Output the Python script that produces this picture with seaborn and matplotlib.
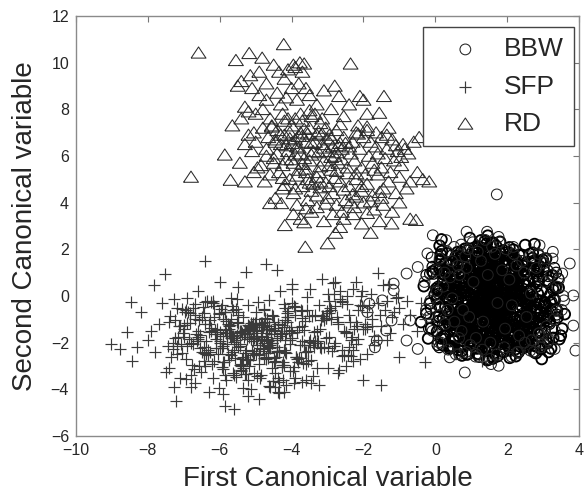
import numpy as np
import pandas as pd
import seaborn as sns
import matplotlib.pyplot as plt

# ---------------- BBW (circles) ----------------
# dense core, values in hundredths
bbw_core_x100 = [
    148, 62, 221, 105, 187, 12, 163, 239, 88, 131, 275, 46, 199, 154, 117, 302, 73, 176, 140, 226,
    95, 258, 124, 181, -8, 166, 109, 213, 151, 33, 244, 137, 82, 195, 170, 290, 57, 128, 208, 159,
    101, 231, 144, 19, 186, 116, 266, 69, 173, 135, 328, 92, 205, 158, 41, 248, 122, 190, 81, 146,
    283, 107, 167, -25, 217, 132, 60, 254, 178, 113, 197, 29, 156, 236, 87, 141, 311, 64, 183, 126,
    218, 98, 161, 3, 272, 139, 76, 194, 150, 240, 52, 119, 206, 171, 337, 85, 133, 225, 20, 165,
    111, 262, 147, 70, 189, 296, 102, 153, -40, 229, 127, 179, 44, 251, 143, 94, 210, 162, 353, 120,
    175, 36, 242, 130, 80, 202, 155, 280, 66, 185, 114, 233, 10, 168, 138, 318, 90, 196, 149, 54,
    255, 123, 177, 99, 214, 345, 27, 160, 108, 247, 142, 74, 191, 134, 289, 48, 172, 118, 227, 157,
    84, 211, 145, 268, 38, 181, 125, 198, 61, 303, 152, 104, 237, 169, -15, 223, 136, 78, 192, 260,
    115, 164, 16, 246, 129, 56, 207, 174, 332, 96, 184, 140, 71, 219, 153, 285, 43, 166, 112, 201,
    261, 121, 186, 50, 232, 148, 93, 315, 169, 7, 209, 134, 256, 79, 178, 117, 241, 31, 193, 157,
    103, 277, 146, 65, 220, 181, 349, 88, 138, 204, -32, 163, 251, 110, 187, 58, 230, 144, 295, 97,
    135, 24, 196, 162, 270, 77, 215, 128, 49, 245, 176, 106, 308, 152, 89, 226, 13, 188, 141, 264,
    67, 170, 119, 238, 35, 199, 156, 323, 100, 182, 131, 59, 250, 167, 83, 212, 148, 286, 40, 179,
    113, 234, 158, 72, 200, 139, 299, 53, 185, 124, 224, 9, 171, 150, 265, 86, 195, 116, 340, 63,
    208, 137, 243, 30, 177, 161, 92, 229, 144, 282, 47, 190, 106, 253, 172, 75, 216, 132, -20, 202,
    159, 81, 227, 120, 293, 42, 184, 147, 249, 68, 205, 133, 17, 174, 110, 314, 91, 240, 154, 55,
    197, 127, 271, 22, 183, 143, 231, 78, 360, 165, 102, 218, 136, 61, 257, 173, 97, 206, 149, 281,
    192, 108, 245, 34, 180, 151, 305, 74, 213, 129, -2, 168, 236, 95, 198, 142, 276, 51, 187, 115,
    222, 160, 335, 83, 176, 125, 252, 15, 203, 146, 70, 232, 170, 105, 294, 45, 189, 135, 248, 87,
    142, 263, 99, 182, 28, 221, 155, 71, 238, 127, 319, 60, 194, 163, 112, 256, 39, 178, 140, 210,
    84, 288, 131, 5, 223, 167, 93, 247, 150, 326, 67, 186, 121, 235, 51, 199, 158, 273, 107, 175,
    228, 58, 173, 136, 279, 90, 204, 145, 18, 241, 164, 118, 301, 76, 192, 153, 260, 37, 181, 128,
    217, 101, 343, 64, 170, 139, 236, 12, 195, 157, 86, 266, 148, 114, 212, 46, 183, 126, 291, 96,
    166, 242, 103, 190, 54, 228, 137, 312, 79, 179, 146, -12, 215, 122, 259, 89, 185, 157, 32, 232,
    111, 200, 168, 284, 62, 176, 130, 247, 23, 209, 151, 98, 330, 141, 188, 73, 225, 161, 119, 269,
    105, 185, 257, 43, 196, 134, 293, 82, 219, 158, 112, 244, 26, 173, 145, 308, 69, 207, 124, 264,
    97, 180, 152, 39, 235, 166, 87, 278, 139, 201, 56, 247, 171, 118, 322, 76, 193, 147, 214, 6,
]
bbw_core_y100 = [
    -18, -110, 62, -205, -45, 118, -80, 20, -150, -5, -240, 85, -60, -130, 40, -95, 150, -175, -30, 5,
    -120, 70, -215, -50, 105, -85, 30, -160, -10, 182, -135, -65, 50, -190, -25, 128, -100, -40, 12, -230,
    48, -140, -15, 95, -70, -225, 25, -105, 160, -55, -180, 78, -35, 135, -125, 0, -260, 58, -90, -20,
    115, -165, 38, -75, 198, -115, -45, -200, 88, -8, -145, 142, -60, 18, -250, 65, -95, 172, -30, -185,
    102, -68, -155, 32, -5, -235, 80, -120, 155, -42, -92, 205, -175, 15, -62, -130, 120, 45, -210, -22,
    92, -150, -85, 168, 8, -270, -38, 60, -112, 138, -188, -52, 28, -98, 225, -160, 72, -12, -140, 110,
    -75, 35, -195, 145, -58, -28, 98, -245, 55, -135, -2, 175, -88, -170, 42, -110, 130, -48, -220, 68,
    -15, -128, 190, -72, 22, -185, 108, -40, -158, 3, 82, -255, -64, 158, -105, -35, 52, -200, 122, -82,
    15, -165, 112, -48, -118, 72, -208, -12, 142, -92, 38, -152, -62, 215, -32, -228, 95, -78, 2, -138,
    165, -55, -182, 60, -102, 28, -265, 132, -18, -145, 75, -70, 188, -122, -42, 10, -215, 100, -88, 45,
    -130, 58, -25, -190, 125, -60, 5, -240, 85, -108, 172, -38, -152, 35, -82, 212, -198, -8, 68, -125,
    -52, 148, -230, 18, -95, 98, -170, -28, 235, -115, 42, -68, -205, 115, -44, -142, 78, -275, 25, -98,
    88, -172, 12, -58, 162, -128, -35, 65, -218, 128, -75, -5, -185, 45, 195, -108, -48, 82, -162, 22,
    -90, 140, -248, -20, 58, -132, 178, -62, -192, 92, -10, -118, 218, -42, -158, 35, -72, 105, -225, 0,
    -48, 118, -100, -212, 52, -30, 155, -148, -68, 75, -258, 28, -112, 192, -55, -178, 8, 138, -92, -38,
    62, -198, 110, -15, -142, 228, -80, 42, -165, -50, 95, -240, 20, -105, 168, -28, -125, 55, -182, 132,
    -5, -155, 78, -85, 148, -220, -40, 35, -125, 98, -190, -18, 242, -70, -138, 65, -22, -205, 112, -58,
    15, -168, 185, -95, -35, 48, -242, 125, -78, -148, 30, 162, -112, -8, -195, 88, -60, 208, -132, 40,
    130, -62, -180, 25, -102, 182, -30, -235, 70, -145, 5, 150, -88, -195, 55, -120, 222, -45, -12, -168,
    92, -268, 38, -72, 135, -110, -25, 178, -215, 60, -58, -140, 115, -35, -228, 18, 195, -92, -5, -178,
    40, -118, 95, -205, -48, 158, -82, 12, -162, 238, -28, -125, 72, -245, 125, -68, -15, 170, -188, 48,
    -102, -35, 205, -152, 30, -75, 108, -222, -2, 88, -135, 145, -55, -198, 62, -20, 228, -112, 15, -160,
    -92, 22, -138, 112, -62, -250, 78, -18, 192, -108, 48, -178, -42, 138, -85, 0, -212, 100, -32, -148,
    165, -70, 35, -232, 82, -120, 10, 215, -55, -162, 58, -95, -272, 128, -38, 2, -188, 92, -122, 248,
    -25, 175, -145, 55, -98, -15, 120, -202, 32, -78, 258, -138, 70, -48, -182, 18, -112, 152, -65, -238,
    95, -28, 42, -158, 188, -88, -5, -218, 75, -130, 140, -52, -12, -192, 108, -80, 25, -262, 62, -115,
    68, -195, -35, 135, -115, 28, -70, 202, -168, 52, -22, -128, 90, -258, 15, 160, -95, -48, -152, 118,
    -62, 232, -182, 38, -105, 75, -40, -215, 155, 8, -138, 48, -78, 185, -225, 22, -58, 98, -148, -10,
]
# second read of the filled block, hundredths
bbw_fill_x100 = [
    35, 298, 120, 211, -12, 176, 265, 84, 312, 149, 57, 238, 103, 190, 323, 14, 162, 279, 128, 229,
    70, 305, 187, -5, 250, 138, 45, 221, 96, 286, 171, 25, 331, 117, 204, 60, 262, 153, 9, 240,
    182, 88, 317, 131, 49, 272, 197, 107, -18, 226, 145, 293, 64, 183, 253, 28, 124, 308, 168, 79,
    257, 2, 214, 142, 327, 93, 179, 40, 236, 122, 283, 67, 196, 156, 19, 301, 112, 245, 174, 53,
    136, 269, 81, 203, 31, 319, 160, 99, 246, 185, -8, 224, 127, 290, 74, 207, 42, 267, 150, 336,
    17, 193, 289, 110, 232, 58, 166, 275, 139, 6, 219, 86, 314, 177, 47, 255, 119, 199, 296, 68,
    228, 151, 39, 281, 126, 206, 12, 243, 92, 325, 170, 56, 260, 134, 212, 77, 304, 23, 188, 114,
    61, 247, 165, 316, 100, -25, 209, 143, 277, 33, 192, 118, 258, 72, 231, 155, 338, 89, 176, 11,
    273, 130, 52, 199, 311, 108, 235, 1, 163, 287, 76, 217, 146, 29, 263, 180, 94, 321, 124, 241,
    44, 182, 300, 87, 223, 158, 15, 270, 115, 202, 63, 333, 141, 250, 36, 186, 97, 295, 169, -10,
    215, 105, 285, 48, 173, 251, 129, 21, 309, 195, 82, 237, 153, 6, 276, 117, 201, 66, 342, 160,
    99, 256, 27, 190, 135, 318, 71, 226, 167, 3, 294, 111, 245, 54, 182, 138, 269, 38, 213, 147,
    306, 59, 178, 241, 16, 132, 282, 90, 205, 157, 328, 43, 218, 121, 259, 79, -15, 194, 140, 266,
    125, 220, 8, 297, 162, 74, 233, 109, 339, 184, 51, 264, 137, 20, 210, 291, 95, 171, 248, 34,
    187, 83, 271, 145, 315, 26, 199, 113, 254, 65, 166, 302, 41, 227, 131, 280, 10, 208, 101, 175,
]
bbw_fill_y100 = [
    -120, 85, -200, 20, -55, 160, -165, -10, 110, -230, 45, -85, 190, -140, -25, 135, -190, 60, -100, 0,
    170, -150, -40, 95, -215, 30, -75, 145, -180, 70, -5, -125, 120, -60, -205, 40, 180, -95, 10, -160,
    -30, 125, -110, 55, -185, 150, -50, 100, -140, 15, 195, -70, -220, 80, -15, -170, 130, -45, 65, -195,
    105, -90, 175, -130, 35, -60, 185, -225, 75, -20, -150, 155, -80, 25, -175, 115, -35, -200, 90, -115,
    -65, 140, -210, 50, -100, 5, 165, -155, 90, -40, 125, -190, -15, 70, -135, 185, -70, 30, -225, 100,
    155, -120, -20, 190, -170, 65, -90, 120, -45, -210, 40, -145, 85, -5, 175, -80, -190, 135, 20, -60,
    -180, 60, 130, -95, 10, -230, 150, -50, 95, -140, -10, 170, -115, 45, -200, 110, -25, 75, -160, 185,
    35, -175, 110, -70, -135, 90, -5, 160, -210, 55, -105, 195, -40, 130, -185, 15, -80, 145, -125, -220,
    80, -30, -195, 140, -85, 20, -160, 115, -55, 175, -215, 50, -100, 100, -10, -145, 160, -65, 0, -180,
    -110, 180, -45, -165, 70, -225, 125, 5, -90, 155, -130, 35, -20, -190, 110, -70, 85, -150, 45, 165,
    10, -200, 95, -125, 150, -35, -175, 65, -105, 185, -60, 120, -215, 25, -140, 170, -5, -85, 75, -155,
    145, -55, -185, 30, 195, -120, 60, -205, 100, -15, -160, 170, -75, 40, -230, 135, -95, 5, -170, 115,
    -40, 110, -145, -10, 160, -195, 85, -65, 180, -110, 25, -220, 140, -30, 55, -180, 95, -130, 190, -75,
    120, -100, 40, -215, -5, 165, -150, 75, -60, -185, 150, -20, 105, -125, 60, -205, 175, -45, -165, 15,
    -15, 200, -135, 80, -90, 30, -210, 130, -70, -170, 50, 105, -195, 155, -50, -115, 20, -235, 90, 140,
]
# ring around the core, hundredths
bbw_ring_x100 = [
    -30, -18, -8, 3, 7, 12, 16, 22, 27, 33, 36, 41, 47, 52, 57, 63, 66, 72, 77, 83,
    86, 91, 97, 104, 112, 118, 131, 139, 152, 158, 171, 179, 192, 198, 212, 218, 231, 242, 249, 262,
    268, 281, 288, 302, 309, 322, 331, 338, 352, 356, 344, 333, 326, 314, 306, 293, 287, 274, 266, 254,
    247, 233, 226, 213, 206, 194, 186, 173, 166, 153, 146, 133, 127, 113, 106, 94, 87, 73, 67, 53,
    46, 34, 26, 13, 4, -6, -14, -26,
]
bbw_ring_y100 = [
    60, -90, -150, 110, -40, 160, -200, 40, -120, 190, -230, 80, -10, 210, -250, 130, -180, 220, -60, 170,
    -240, 200, -210, 230, -260, 190, -230, 240, -270, 210, -250, 230, -220, 200, -260, 180, -240, 150, -200, 170,
    -190, 120, -160, 140, -130, 90, -100, 40, -60, 0, 70, -150, 160, -190, 60, -220, 180, -240, 10, -90,
    100, -170, 130, -40, 70, -140, 110, -30, 180, -200, 90, -110, 150, -180, 60, -90, 120, -150, 90, -110,
    150, -60, 100, -80, 20, 60, -20, -60,
]
# scattered outer circles
bbw_edge_x = [-0.07, 0.87, 1.44, 2.9, 3.06, 3.74, 3.53, 3.84, 3.84, 3.9, 3.32, 2.96, 2.28, 1.76, 1.55,
              0.82, 0.66, 1.13, -0.49, -0.8, -0.7, -0.8, -0.49, -1.16, -1.16, -1.48, -1.84, -1.89,
              -1.68, -1.63, -1.37, -1.22, -0.22, 0.3, 1.76, 2.17, 3.27, 3.58, 3.37, 3.01, 2.64, 0.4,
              0.09, 1.71]
bbw_edge_y = [2.6, 2.75, 2.75, 2.17, 1.6, 1.39, 0.96, 0.02, -1.27, -2.34, -2.27, -1.77, -2.41, -2.99,
              -2.92, -3.28, -2.49, -2.49, -2.27, -1.91, -1.05, 0.96, 1.24, 0.53, 0.24, -0.19, -0.33,
              -0.69, -2.2, -1.91, -1.48, -1.05, 1.82, 2.39, 2.53, 2.1, 1.89, -0.19, -0.62, -2.06,
              -2.34, -2.63, -1.98, 4.35]

# ---------------- SFP (plus) ----------------
sfp_core_x100 = [
    -512, -438, -605, -470, -545, -390, -658, -495, -420, -570, -335, -528, -462, -700, -485, -552, -405, -630, -478, -360,
    -590, -448, -520, -680, -412, -535, -498, -310, -615, -455, -560, -380, -505, -725, -440, -582, -468, -348, -645, -515,
    -428, -598, -482, -372, -540, -660, -452, -508, -295, -575, -435, -620, -490, -398, -555, -742, -465, -530, -325, -610,
    -475, -418, -565, -502, -690, -445, -385, -548, -638, -458, -522, -355, -592, -488, -430, -670, -518, -400, -578, -472,
    -340, -625, -495, -450, -560, -715, -410, -538, -480, -365, -602, -525, -442, -650, -508, -392, -585, -462, -318, -568,
    -500, -675, -425, -545, -478, -370, -618, -532, -455, -705, -415, -590, -485, -345, -555, -640, -440, -515, -395, -572,
    -468, -735, -505, -428, -595, -452, -330, -562, -498, -662, -420, -540, -475, -378, -608, -520, -445, -685, -492, -362,
    -580, -458, -528, -305, -632, -482, -412, -558, -510, -720, -438, -575, -465, -352, -598, -535, -448, -655, -502, -388,
    -570, -478, -422, -612, -545, -462, -695, -405, -585, -490, -338, -550, -628, -472, -518, -398, -565, -448, -750, -525,
    -485, -375, -600, -512, -435, -668, -495, -418, -578, -455, -322, -542, -640, -468, -505, -392, -590, -482, -710, -530,
    -460, -408, -560, -498, -645, -442, -372, -575, -515, -300,
    -612, -388, -705, -455, -298, -536, -661, -247, -478, -572, -340, -689, -419, -523, -265, -598, -730, -362, -447, -551,
    -203, -634, -401, -497, -315, -676, -583, -433, -228, -548, -652, -375, -469, -718, -289, -521, -607, -356, -441, -176,
    -589, -684, -327, -505, -412, -627, -259, -562, -476, -738, -393, -541, -281, -646, -428, -519, -352, -697, -236, -575,
    -462, -610, -309, -487, -665, -384, -555, -214, -621, -439, -512, -336, -708, -401, -594, -268, -484, -643, -372, -530,
    -190, -568, -450, -683, -322, -601, -416, -538, -255, -657, -494, -367, -724, -445, -586, -302, -509, -631, -398, -222,
    -545, -672, -343, -465, -616, -280, -527, -699, -424, -579, -358, -492, -238, -640, -458, -553, -319, -668, -436, -160,
    -603, -381, -517, -744, -293, -563, -471, -650, -409, -535, -250, -619, -443, -691, -330, -500, -590, -366, -481, -207,
    -655, -426, -548, -287, -713, -453, -597, -348, -522, -272, -636, -415, -570, -681, -305, -489, -624, -390, -543, -232,
    -582, -463, -693, -338, -507, -645, -421, -559, -261, -615, -404, -531, -727, -354, -476, -593, -296, -660, -437, -196,
    -566, -379, -508, -674, -312, -556, -432, -625, -244, -498, -360, -586, -459, -702, -283, -541, -418, -639, -345, -218,
]
sfp_core_y100 = [
    -185, -120, -250, -160, -215, -80, -300, -145, -230, -100, -195, -270, -130, -175, -340, -110, -205, -155, -60, -240,
    -170, -285, -125, -200, -90, -260, -150, -220, -45, -310, -180, -135, -245, -105, -190, -360, -140, -210, -75, -275,
    -165, -225, -115, -195, -320, -150, -85, -255, -175, -130, -235, -20, -290, -160, -205, -110, -265, -145, -380, -185,
    -95, -240, -170, -125, -215, -330, -155, -70, -250, -190, -140, -280, -100, -225, -160, -35, -300, -180, -120, -260,
    -200, -150, -345, -110, -230, -175, -65, -270, -135, -210, -395, -165, -240, -90, -195, -305, -145, -220, -105, -255,
    -185, -50, -285, -155, -200, -130, -350, -175, -80, -245, -160, -215, -115, -275, -190, -25, -235, -140, -320, -170,
    -100, -260, -180, -125, -225, -365, -150, -60, -250, -195, -135, -290, -110, -210, -165, -40, -280, -185, -120, -240,
    -205, -145, -335, -95, -230, -170, -75, -265, -130, -215, -410, -160, -245, -85, -200, -310, -150, -225, -115, -260,
    -180, -55, -295, -165, -205, -140, -355, -190, -70, -255, -155, -220, -105, -270, -175, -30, -240, -145, -325, -185,
    -125, -265, -195, -115, -235, -375, -160, -50, -250, -200, -140, -300, -120, -215, -170, -45, -285, -190, -130, -245,
    -210, -150, -340, -100, -220, -180, -65, -275, -135, -225,
    -148, -262, -55, -201, -310, -92, -177, -35, -238, -124, -345, -70, -190, -275, -12, -155, -228, -108, -388, -168,
    -42, -252, -135, -212, -84, -298, -160, 22, -232, -118, -325, -62, -185, -248, -98, -362, -142, -5, -218, -130,
    -285, -75, -195, -330, -112, -240, -25, -172, -265, -88, -375, -152, -215, -48, -305, -128, -198, -68, -258, -140,
    -18, -225, -102, -352, -165, -272, -58, -186, -292, -122, -398, -80, -208, -145, -38, -318, -175, -245, -95, -335,
    -132, -8, -268, -115, -220, -72, -380, -158, -255, -105, -28, -288, -182, -138, -340, -65, -235, -120, 30, -205,
    -150, -315, -85, -192, -278, -45, -230, -125, -358, -170, -60, -248, -110, -302, -162, -15, -222, -98, -370, -188,
    -78, -282, -138, -215, -52, -328, -178, -242, -90, -395, -155, -32, -262, -118, -200, -70, -312, -145, -228, -2,
    -168, -298, -82, -235, -128, -365, -58, -190, -270, -112, -22, -245, -160, -338, -95, -212, -138, -48, -295, -175,
    -108, -385, -62, -218, -148, -280, -35, -198, -258, -92, -322, -165, -12, -238, -125, -305, -75, -185, -350, -142,
    -45, -268, -118, -205, -88, -348, -172, -28, -252, -135, -292, -68, -222, -158, 10, -318, -102, -195, -375, -130,
]
sfp_right_x = [-2.9, -2.7, -2.6, -2.5, -2.4, -2.3, -2.2, -2.1, -2.0, -1.9, -1.8, -1.75, -1.6, -1.5, -1.4,
               -1.3, -1.2, -1.1, -1.0, -0.9, -0.8, -0.7, -0.5, -0.4, -0.3, -2.8, -2.6, -2.3, -2.0, -1.5,
               -1.0, -0.3, 1.3, -1.6, -3.15, -2.85, -1.45, -1.05, -2.2, -3.6, -3.7, -4.35, -4.92, -5.6,
               -5.86, -7.21, -7.26, -4.2, -3.9, -3.3, -2.7,
               -2.95, -2.75, -2.55, -2.45, -2.35, -2.15, -2.05, -1.95, -1.85, -1.7, -1.55, -1.35, -1.25,
               -1.15, -2.65, -2.4, -2.25, -1.9, -3.05, -3.25, -2.5, -1.7, -2.1, -2.8, -1.35]
sfp_right_y = [-0.6, -1.2, -0.2, -1.6, -0.8, 0.3, -1.1, -0.4, -1.4, -0.7, 0.1, -1.0, -0.3, -1.3, -0.6,
               0.5, -0.9, -0.1, -0.5, -1.2, -0.2, -0.8, -1.5, -0.3, -1.0, 0.6, -2.3, -2.8, -3.6, -3.8,
               -2.6, -2.85, -2.8, 1.0, 0.74, 0.55, 0.45, -0.05, 0.6, -3.6, -3.7, -4.15, -4.42, -4.85,
               -4.7, -4.5, -3.92, -4.1, -3.5, -3.1, -3.3,
               -0.2, -0.9, -1.5, 0.0, -1.9, -0.6, 0.2, -1.2, -0.4, -1.7, -0.8, -0.2, -1.6,
               -0.7, 0.2, -2.2, -1.4, -2.5, -1.8, -0.4, -3.0, -2.1, -2.7, -2.0, -1.9]
sfp_left_x = [-9.02, -8.78, -8.57, -8.47, -8.45, -8.2, -8.0, -7.84, -7.8, -7.7, -7.53, -7.6, -7.9, -8.3,
              -7.4, -7.1, -6.8, -6.40, -6.6, -5.28, -4.71, -4.42, -6.0, -5.5, -4.0, -3.5, -3.0, -6.9,
              -7.2, -6.3, -5.2, -4.6, -5.9, -6.95, -7.3, -7.0, -6.7]
sfp_left_y = [-2.06, -2.27, -1.55, -0.26, -2.77, -0.7, -1.9, 0.45, -2.4, -1.2, 0.96, -0.3, -1.5, -2.2,
              -3.1, -3.5, -3.9, 1.49, 0.2, 1.03, 1.39, 1.1, 0.6, 0.4, 0.5, 0.3, 0.1, -0.1,
              -0.5, -4.1, -4.3, -3.9, -4.2, -2.7, -2.0, -1.4, -0.8]

# ---------------- RD (triangles) ----------------
rd_x = [-5.4, -5.1, -4.9, -4.7, -5.3, -4.5, -4.4, -5.0, -4.8, -4.2, -3.9, -4.1, -3.95, -4.6, -5.2,
        -4.3, -4.0, -3.8, -3.6, -4.7, -5.15, -5.5, -4.9, -4.35, -3.7, -4.15, -3.85, -4.55, -4.25, -3.5,
        -3.3, -3.45, -4.8, -5.05, -4.65,
        -4.4, -4.2, -4.0, -3.9, -3.75, -3.6, -3.85, -4.1, -4.3, -3.5, -3.3, -3.15, -3.0, -2.85, -2.95,
        -3.2, -3.4, -3.65, -3.95, -4.25, -4.5, -4.7, -4.85, -3.1, -2.8, -2.6, -2.7, -2.9, -3.25, -3.55,
        -3.8, -4.05, -4.35, -4.6, -4.95, -5.1, -5.3, -5.05, -4.75, -3.7, -3.35, -3.05, -2.75, -2.55, -2.45,
        -2.35, -3.45, -3.7, -4.0, -3.25, -2.9, -3.6, -4.15, -3.9, -4.45, -3.15, -2.65, -3.75, -3.5, -4.2,
        -2.2, -2.0, -1.9, -1.8, -1.65, -1.5, -1.35, -1.2, -1.05, -0.9, -0.75, -0.6, -1.6, -1.85, -2.1,
        -2.3, -1.4, -1.15, -0.95, -1.75, -2.05, -2.25, -0.45, -1.3, -2.15,
        -2.2, -1.9, -1.6, -1.3, -1.0, -0.7, -0.5, -0.17, -0.35, -0.8, -1.1, -1.45, -1.75, -2.05, -2.4,
        -2.65, -2.95, -3.2, -3.45, -3.7, -3.95, -4.25, -4.45, -4.6, -4.29, -3.85, -3.55, -3.3, -3.0, -2.75,
        -2.5, -2.25, -2.0, -1.7, -1.45, -1.2, -1.55, -1.22, -0.54, -0.7, -1.8, -2.78, -3.0, -3.62, -4.19,
        -3.75, -3.45, -3.1, -2.85, -2.55, -2.3, -2.05, -1.9, -3.95, -3.65, -2.65, -1.0, -2.2, -1.5,
        -6.59, -4.22, -5.18, -5.55, -4.82, -2.36, -3.77, -3.65, -6.80, -5.86, -5.70, -5.44, -5.3, -1.43,
        -1.56, -2.1, -2.68, -2.4, -2.0, -1.9, -2.55, -2.9, -3.1, -2.8, -5.2, -5.4, -5.65, -5.0,
        -4.05, -3.8, -3.55, -3.35, -3.1, -2.9, -4.3, -4.55, -3.65, -3.25, -2.7, -2.5, -4.15, -3.9, -3.45,
        -3.0, -2.75, -4.4, -3.7, -3.2, -2.95, -2.6, -4.0, -3.6, -3.3, -4.25, -3.85, -3.4, -3.05, -2.8,
        -4.5, -4.1, -3.75, -3.5, -3.15, -2.65, -2.4, -2.2, -1.95, -1.7, -2.55, -2.3, -2.05, -1.8, -1.55,
        -3.3, -3.05, -2.85, -2.6, -2.35, -3.6, -3.9, -4.2, -4.7, -4.45, -2.15, -1.9, -1.65, -1.35, -1.1,
        -0.85, -2.45, -2.75, -3.2, -3.5, -3.8, -4.05, -1.5, -1.25, -0.95]
rd_y = [9.2, 8.9, 9.6, 8.4, 8.1, 9.9, 8.7, 7.8, 8.0, 9.3, 9.8, 9.7, 9.9, 7.6, 7.9,
        8.2, 8.9, 9.1, 8.9, 9.1, 9.45, 9.0, 8.6, 9.6, 9.6, 8.5, 8.4, 7.3, 7.8, 8.6,
        8.2, 7.7, 7.2, 7.0, 6.8,
        7.1, 6.9, 7.3, 6.7, 7.0, 6.6, 6.4, 6.2, 6.5, 7.2, 6.9, 6.5, 6.7, 6.4, 6.9,
        7.4, 6.2, 5.9, 5.7, 5.6, 5.9, 6.3, 5.6, 5.8, 6.0, 6.3, 5.7, 5.4, 5.3, 5.0,
        5.4, 5.0, 5.3, 5.2, 5.5, 6.2, 6.5, 5.3, 4.9, 7.5, 7.8, 7.2, 7.1, 6.8, 5.5,
        6.1, 6.55, 6.85, 6.55, 6.15, 5.95, 5.45, 5.85, 7.6, 6.7, 6.95, 6.55, 6.1, 5.8, 7.5,
        7.0, 6.8, 7.1, 6.6, 7.0, 6.8, 6.3, 6.7, 6.2, 6.5, 6.1, 6.6, 6.1, 6.0, 6.3,
        6.6, 5.9, 5.8, 5.6, 5.7, 5.5, 5.8, 6.8, 7.2, 7.3,
        5.0, 4.8, 5.2, 4.9, 5.1, 4.9, 5.3, 4.9, 5.0, 4.6, 4.4, 4.6, 4.3, 4.5, 4.7,
        4.9, 4.7, 4.9, 4.5, 4.7, 4.4, 4.6, 4.2, 3.97, 3.97, 3.9, 4.1, 3.8, 4.2, 3.9,
        4.1, 3.8, 4.0, 3.7, 3.9, 3.6, 3.2, 3.1, 3.25, 3.3, 2.7, 2.7, 2.25, 2.1, 3.03,
        3.3, 3.6, 3.2, 3.5, 3.3, 3.5, 3.1, 3.55, 3.5, 3.15, 2.95, 4.0, 4.25, 4.2,
        10.42, 10.78, 10.4, 10.1, 10.2, 9.95, 10.0, 9.95, 5.1, 6.05, 4.97, 5.7, 4.9, 8.56,
        7.84, 8.56, 8.56, 8.2, 8.4, 7.8, 7.7, 8.0, 8.8, 9.0, 6.9, 7.6, 7.3, 6.6,
        6.75, 6.85, 6.95, 6.6, 6.35, 6.75, 6.9, 7.25, 7.15, 7.05, 6.45, 6.55, 6.45, 6.05, 6.05,
        6.2, 6.15, 6.1, 5.65, 5.55, 5.6, 5.85, 5.85, 5.3, 5.1, 5.05, 5.15, 4.8, 4.85, 5.05,
        5.7, 7.6, 7.8, 7.95, 7.6, 7.35, 6.4, 5.25, 5.2, 5.4, 4.55, 4.35, 4.7, 4.05, 4.45,
        4.3, 3.95, 4.4, 3.6, 4.0, 3.75, 4.6, 4.75, 6.0, 6.6, 6.95, 7.25, 6.4, 6.9, 6.45,
        6.3, 5.25, 5.35, 4.65, 4.85, 6.35, 7.0, 5.5, 5.3, 5.95]


def pair(xs, ys, scale=1.0):
    n = min(len(xs), len(ys))
    return np.asarray(xs[:n], float) / scale, np.asarray(ys[:n], float) / scale


cx, cy = pair(bbw_core_x100, bbw_core_y100, 100)
fx, fy = pair(bbw_fill_x100, bbw_fill_y100, 100)
rx, ry = pair(bbw_ring_x100, bbw_ring_y100, 100)
ex, ey = pair(bbw_edge_x, bbw_edge_y)

sx, sy = pair(sfp_core_x100, sfp_core_y100, 100)
s2x, s2y = pair(sfp_right_x, sfp_right_y)
s3x, s3y = pair(sfp_left_x, sfp_left_y)
sfp = pd.DataFrame({'x': np.r_[sx, s2x, s3x], 'y': np.r_[sy, s2y, s3y]})

tx, ty = pair(rd_x, rd_y)
rd = pd.DataFrame({'x': tx, 'y': ty})

sns.set_style('white')
plt.rcParams['font.family'] = ['Liberation Sans', 'DejaVu Sans']

fig = plt.figure(figsize=(5.87, 4.96), dpi=100)
ax = fig.add_axes([0.1295, 0.121, 0.857, 0.847])

# wide, flat MATLAB-like triangle
tri = [(-1, -0.72), (1, -0.72), (0, 0.78), (-1, -0.72)]

# BBW: heavy overlap in the centre, thinner circles around it
sns.scatterplot(x=fx, y=fy, marker='o', s=60, color='black', facecolor='none',
                edgecolor='black', linewidth=0.9, label='_nolegend_', ax=ax)
sns.scatterplot(x=cx, y=cy, marker='o', s=60, color='black', facecolor='none',
                edgecolor='black', linewidth=1.35, label='_nolegend_', ax=ax)
sns.scatterplot(x=np.r_[rx, ex], y=np.r_[ry, ey], marker='o', s=60, color='black',
                facecolor='none', edgecolor='#222222', linewidth=0.75, label='BBW', ax=ax)
sns.scatterplot(data=sfp, x='x', y='y', marker='+', s=80, color='#3a3a3a',
                linewidth=0.85, label='SFP', ax=ax)
sns.scatterplot(data=rd, x='x', y='y', marker=tri, s=115, color='#2a2a2a',
                facecolor='none', edgecolor='#2a2a2a', linewidth=0.75, label='RD', ax=ax)

ax.set_xlim(-10, 4)
ax.set_ylim(-6, 12)
ax.set_xticks(range(-10, 5, 2))
ax.set_yticks(range(-6, 13, 2))
ax.tick_params(direction='in', top=True, right=True, length=4, width=0.8,
               color='#777777', labelsize=11.5, pad=5)
for sp in ax.spines.values():
    sp.set_color('#8a8a8a')
    sp.set_linewidth(1.0)

ax.set_xlabel('First Canonical variable', fontsize=20, labelpad=6)
ax.set_ylabel('Second Canonical variable', fontsize=20, labelpad=9)

leg = ax.legend(loc='upper right', bbox_to_anchor=(0.99, 0.974), fontsize=19,
                frameon=True, fancybox=False, framealpha=1, edgecolor='#444444',
                borderaxespad=0, borderpad=0.4, labelspacing=0.5,
                handlelength=2.4, handletextpad=0.25, markerscale=1.0)
leg.get_frame().set_linewidth(1.0)

fig.savefig('out.png', dpi=100)
